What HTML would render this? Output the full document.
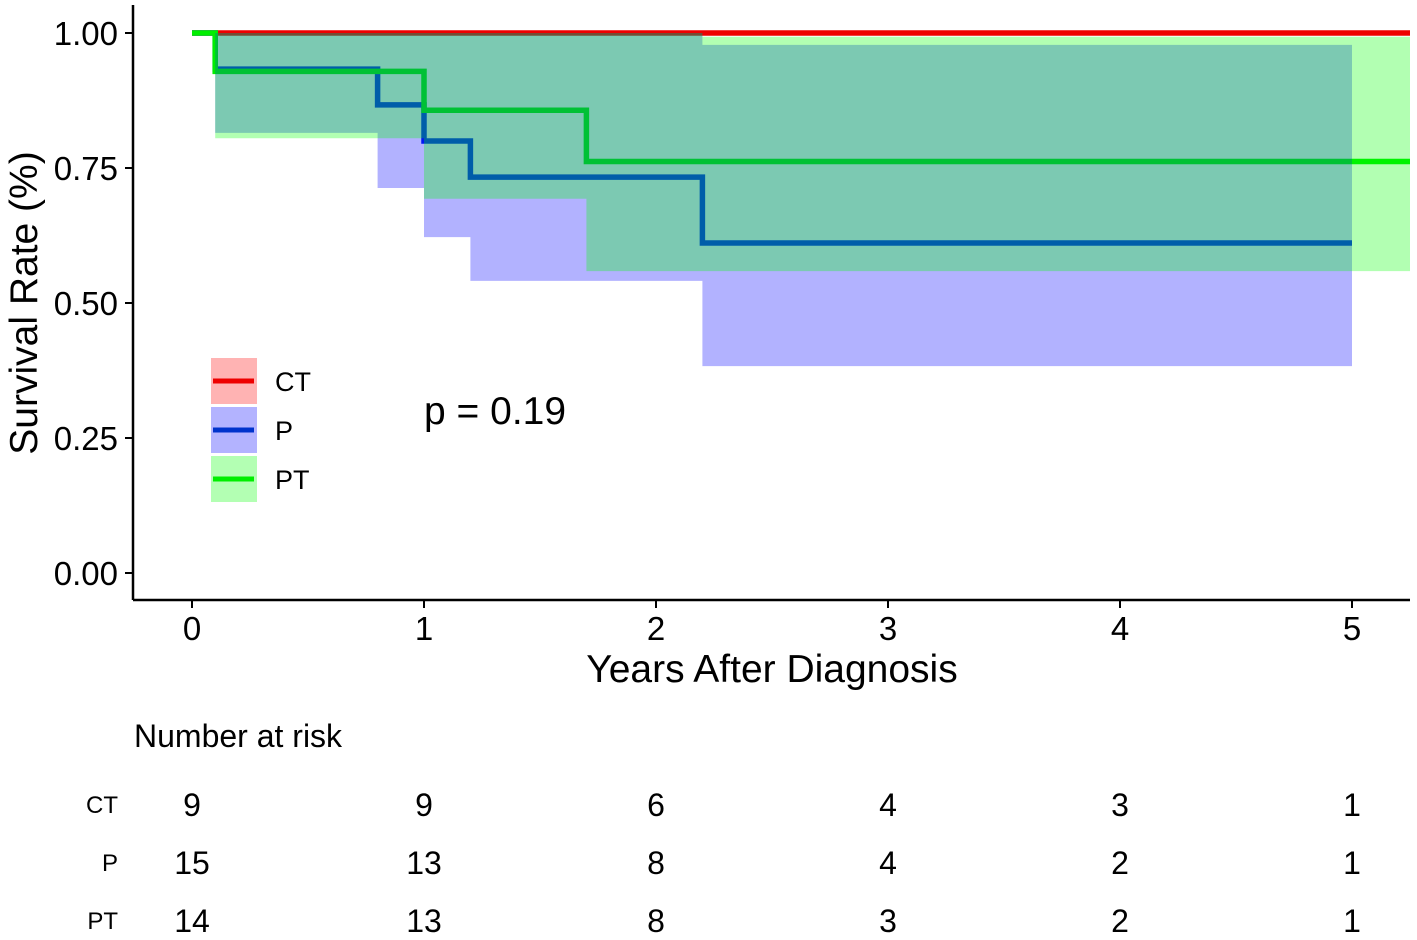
<!DOCTYPE html>
<html><head><meta charset="utf-8"><style>
body{margin:0;background:#fff;}
svg{display:block;font-family:"Liberation Sans",sans-serif;}
</style></head><body>
<svg width="1417" height="940" id="svg">
<g id="plot"></g>
<line x1="133" y1="5" x2="133" y2="600" stroke="#000" stroke-width="2.5"/>
<line x1="133" y1="600" x2="1410" y2="600" stroke="#000" stroke-width="2.5"/>
<g id="axes"></g>
<text x="0" y="0" transform="translate(37,303) rotate(-90)" font-size="39" text-anchor="middle">Survival Rate (%)</text>
<text x="772" y="682" font-size="39" text-anchor="middle">Years After Diagnosis</text>
<text x="424" y="424" font-size="39">p = 0.19</text>
<g>
<rect x="211" y="358" width="46" height="46" fill="#ffb3b3"/>
<line x1="213" y1="381" x2="254" y2="381" stroke="#ee0000" stroke-width="5"/>
<text x="275" y="391" font-size="27">CT</text>
<rect x="211" y="407" width="46" height="46" fill="#b3b3ff"/>
<line x1="213" y1="430" x2="254" y2="430" stroke="#0033cc" stroke-width="5"/>
<text x="275" y="440" font-size="27">P</text>
<rect x="211" y="456" width="46" height="46" fill="#b3ffb3"/>
<line x1="213" y1="479" x2="254" y2="479" stroke="#00ee00" stroke-width="5"/>
<text x="275" y="489" font-size="27">PT</text>
</g>
<text x="134" y="747" font-size="32">Number at risk</text>
<g id="risk"></g>
</svg>
<script>
const NS="http://www.w3.org/2000/svg";
const xTicks=[0,1,2,3,4,5];
const yTicks=[0,0.25,0.5,0.75,1];
const yLabels=["0.00","0.25","0.50","0.75","1.00"];
const ctTimes=[0,5.25];
const ctSurv=[1,1];
const pTimes=[0,0.1,0.8,1.0,1.2,2.2,5.0];
const pSurv=[1,0.933,0.867,0.8,0.733,0.611,0.611];
const pLower=[1,0.815,0.713,0.622,0.541,0.383,0.383];
const pUpper=[1,1,1,1,1,0.978,0.978];
const ptTimes=[0,0.1,1.0,1.7,2.2,5.25];
const ptSurv=[1,0.929,0.857,0.762,0.762,0.762];
const ptLower=[1,0.805,0.693,0.559,0.559,0.559];
const ptUpper=[1,1,1,1,0.993,0.993];
const groups=["CT","P","PT"];
const risk=[[9,9,6,4,3,1],[15,13,8,4,2,1],[14,13,8,3,2,1]];
const X=t=>192+t*232, Y=s=>573-s*540;
const plot=document.getElementById('plot');
function stepPath(ts,vs){let d=`M${X(ts[0])},${Y(vs[0])}`;for(let i=1;i<ts.length;i++){d+=`H${X(ts[i])}V${Y(vs[i])}`;}return d;}
function band(ts,lo,hi,start){let top=[],bot=[];for(let i=start;i<ts.length-1;i++){top.push(`${X(ts[i])},${Y(hi[i])}`,`${X(ts[i+1])},${Y(hi[i])}`);bot.push(`${X(ts[i])},${Y(lo[i])}`,`${X(ts[i+1])},${Y(lo[i])}`);}bot.reverse();return "M"+top.concat(bot).join("L")+"Z";}
function line(d,c,n){const p=document.createElementNS(NS,'path');p.setAttribute('d',d);p.setAttribute('fill','none');p.setAttribute('stroke',c);p.setAttribute('stroke-width','5.5');


plot.appendChild(p);}
function fill(d,c,n){const p=document.createElementNS(NS,'path');p.setAttribute('d',d);p.setAttribute('fill',c);p.setAttribute('fill-opacity','0.3');


plot.appendChild(p);}
line(stepPath(ctTimes,ctSurv),'#ee0000','ct-curve');
line(stepPath(pTimes,pSurv),'#0022ee','p-curve');
line(stepPath(ptTimes,ptSurv),'#00ee00','pt-curve');
fill(band(pTimes,pLower,pUpper,1),'#0000ff','p-ci-band');
fill(band(ptTimes,ptLower,ptUpper,1),'#00ff00','pt-ci-band');
const ax=document.getElementById('axes');
xTicks.forEach(t=>{const l=document.createElementNS(NS,'line');l.setAttribute('x1',X(t));l.setAttribute('x2',X(t));l.setAttribute('y1',600);l.setAttribute('y2',608);l.setAttribute('stroke','#000');l.setAttribute('stroke-width','2');


ax.appendChild(l);
const tx=document.createElementNS(NS,'text');tx.setAttribute('x',X(t));tx.setAttribute('y',640);tx.setAttribute('font-size','33');tx.setAttribute('text-anchor','middle');tx.textContent=t;


ax.appendChild(tx);});
yTicks.forEach((v,i)=>{const l=document.createElementNS(NS,'line');l.setAttribute('x1',125);l.setAttribute('x2',133);l.setAttribute('y1',Y(v));l.setAttribute('y2',Y(v));l.setAttribute('stroke','#000');l.setAttribute('stroke-width','2');


ax.appendChild(l);
const tx=document.createElementNS(NS,'text');tx.setAttribute('x',118);tx.setAttribute('y',Y(v)+12);tx.setAttribute('font-size','33');tx.setAttribute('text-anchor','end');tx.textContent=yLabels[i];


ax.appendChild(tx);});
const rg=document.getElementById('risk');const rowY=[816,874,932];
groups.forEach((g,r)=>{const lb=document.createElementNS(NS,'text');lb.setAttribute('x',118);lb.setAttribute('y',rowY[r]-3);lb.setAttribute('font-size','24');lb.setAttribute('text-anchor','end');lb.textContent=g;


rg.appendChild(lb);
risk[r].forEach((n,i)=>{const tx=document.createElementNS(NS,'text');tx.setAttribute('x',X(xTicks[i]));tx.setAttribute('y',rowY[r]);tx.setAttribute('font-size','32');tx.setAttribute('text-anchor','middle');tx.textContent=n;


rg.appendChild(tx);});});
</script>
</body></html>
